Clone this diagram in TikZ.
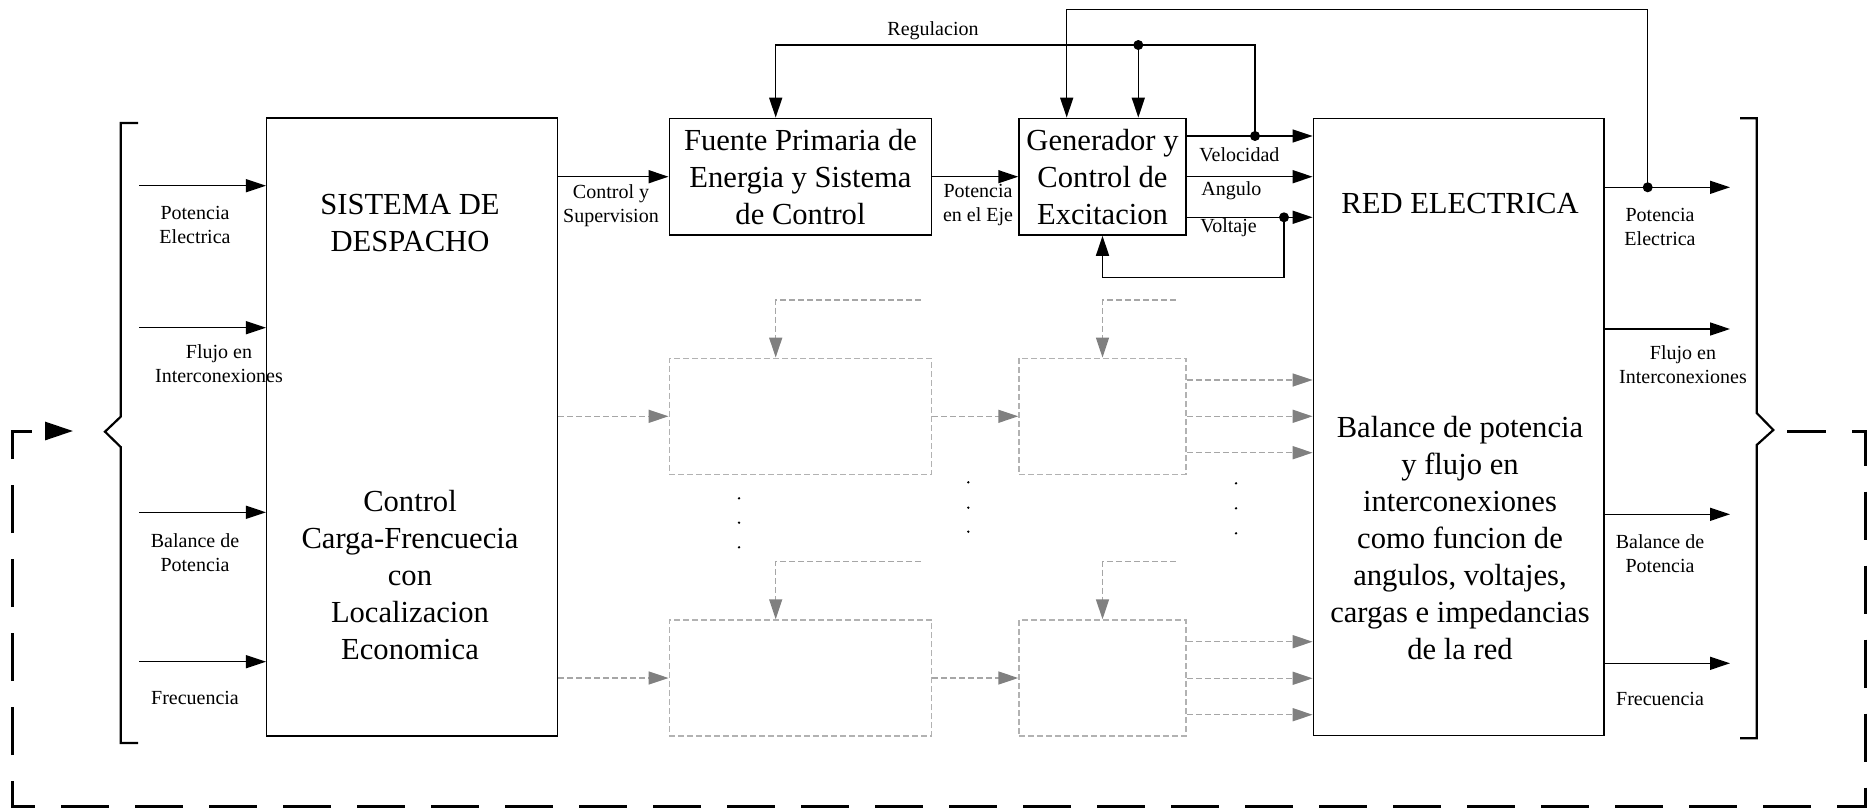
\documentclass[tikz,border=0pt]{standalone}
\usepackage{fontspec}
\setmainfont{Liberation Serif}
\usetikzlibrary{arrows.meta}
\newcommand\bigtxt{\fontsize{15.3}{18.5}\selectfont}
\newcommand\smalltxt{\fontsize{10}{12}\selectfont}
\begin{document}
\begin{tikzpicture}[x=0.5pt,y=-0.5pt,
  box/.style={draw, line width=0.75pt, inner sep=0pt, align=center, font=\bigtxt},
  bigtext/.style={inner sep=0pt, align=center, font=\bigtxt},
  gbox/.style={draw=gray!60, dash pattern=on 3pt off 1.5pt, line width=0.75pt, inner sep=0pt},
  arr/.style={line width=0.75pt, -{Triangle[length=10pt,width=6.5pt]}},
  garr/.style={draw=gray!70, dash pattern=on 3pt off 1.5pt, line width=0.75pt, -{Triangle[length=10pt,width=6.5pt,color=gray]}},
  lbl/.style={font=\smalltxt, align=center, inner sep=0pt},
  jdot/.style={circle, fill, inner sep=0pt, minimum size=5pt},
  vdot/.style={circle, fill, inner sep=0pt, minimum size=1.3pt},
  brk/.style={line width=1.1pt},
  loopst/.style={line width=1.5pt, dash pattern=on 24pt off 13pt, dash phase=4.3pt, -{Triangle[length=14pt,width=9pt]}}
]
\useasboundingbox (0,0) rectangle (1869,809);

% main boxes
\node[box, minimum width=145.3pt, minimum height=309pt] (sis) at (412,427) {};
\node[bigtext] (sist1) at (410,223.5) {SISTEMA DE\\DESPACHO};
\node[bigtext] (sist2) at (410,575) {Control\\Carga-Frencuecia\\con\\Localizacion\\Economica};
\node[box, minimum width=131.2pt, minimum height=58.35pt] (fuente) at (800.5,176.7) {Fuente Primaria de\\Energia y Sistema\\de Control};
\node[box, minimum width=83.5pt, minimum height=58.35pt] (gen) at (1102.5,176.7) {Generador y\\Control de\\Excitacion};
\node[box, minimum width=145.35pt, minimum height=308.7pt] (red) at (1458.7,427) {};
\node[bigtext] (redt1) at (1460,204) {RED ELECTRICA};
\node[bigtext] (redt2) at (1460,538) {Balance de potencia\\y flujo en\\interconexiones\\como funcion de\\angulos, voltajes,\\cargas e impedancias\\de la red};

% dashed boxes
\node[gbox, minimum width=131.2pt, minimum height=58pt] (f1) at (800.5,416.3) {};
\node[gbox, minimum width=83.5pt, minimum height=58pt] (g1) at (1102.5,416.3) {};
\node[gbox, minimum width=131.2pt, minimum height=58pt] (f2) at (800.5,678) {};
\node[gbox, minimum width=83.5pt, minimum height=58pt] (g2) at (1102.5,678) {};

% brackets
\draw[brk] (138,123) -- (120.7,123) -- (120.7,416.7) -- (105,431.7) coordinate (lbp) -- (120.7,447) -- (120.7,743) -- (138,743);
\draw[brk] (1740,118.3) -- (1756.7,118.3) -- (1756.7,413) -- (1773.3,430) coordinate (rbp) -- (1756.7,445) -- (1756.7,738.3) -- (1740,738.3);

% input arrows
\coordinate (i1) at (139,185.7);
\coordinate (i2) at (139,327.7);
\coordinate (i3) at (139,512.3);
\coordinate (i4) at (139,661.7);
\foreach \c in {i1,i2,i3,i4} \draw[arr] (\c) -- (\c -| sis.west);
\node[lbl] (li1) at (195,225) {Potencia\\Electrica};
\node[lbl] (li2) at (219,364) {Flujo en\\Interconexiones};
\node[lbl] (li3) at (195,553) {Balance de\\Potencia};
\node[lbl] (li4) at (195,698) {Frecuencia};

% output arrows
\coordinate (o1) at (1730,187.3);
\coordinate (o2) at (1730,329);
\coordinate (o3) at (1730,514.3);
\coordinate (o4) at (1730,663.3);
\foreach \c in {o1,o2,o3,o4} \draw[arr] (\c -| red.east) -- (\c);
\node[lbl] (lo1) at (1660,227) {Potencia\\Electrica};
\node[lbl] (lo2) at (1683,365) {Flujo en\\Interconexiones};
\node[lbl] (lo3) at (1660,554) {Balance de\\Potencia};
\node[lbl] (lo4) at (1660,699) {Frecuencia};

% top row connectors
\draw[arr] (sis.east |- fuente.west) -- (fuente.west);
\node[lbl] (lcs) at (611,205.5) {Control y\\Supervision};
\draw[arr] (fuente.east) -- (gen.west);
\node[lbl] (lpe) at (978,205.5) {Potencia\\en el Eje};

\coordinate (yv) at (0,136);
\coordinate (yvo) at (0,217.3);
\draw[arr] (gen.east |- yv) -- (red.west |- yv);
\draw[arr] (gen.east) -- (gen.east -| red.west);
\draw[arr] (gen.east |- yvo) -- (red.west |- yvo);
\node[lbl, anchor=west] (lvel) at (1199,155) {Velocidad};
\node[lbl, anchor=west] (lang) at (1201,190.7) {Angulo};
\node[lbl, anchor=west] (lvol) at (1200,227.7) {Voltaje};

\node[jdot] (dv) at (1255,136) {};
\node[jdot] (dvol) at (1284,217.3) {};
\node[jdot] (dreg) at (1138.3,45) {};
\node[jdot] (dpe) at (1647.7,187.3) {};

\coordinate (regx) at (775.7,45);
\draw[arr] (dv.center) |- (regx) -- (regx |- fuente.north);
\draw[arr] (dreg.center) -- (dreg |- gen.north);
\node[lbl] (lreg) at (933,30.7) {Regulacion};

\coordinate (topx) at (1066.7,9.3);
\draw[arr] (dpe.center) |- (topx) -- (topx |- gen.north);

\coordinate (vb) at (1102.5,277.7);
\draw[arr] (dvol.center) |- (vb) -- (gen.south);

% dashed rows
\draw[garr] (sis.east |- f1) -- (f1.west);
\draw[garr] (f1.east) -- (g1.west);
\foreach \yy in {380,416.3,452.7} {
  \coordinate (tmp) at (0,\yy);
  \draw[garr] (g1.east |- tmp) -- (red.west |- tmp);
}
\coordinate (fb1) at (921,300);
\coordinate (fb1x) at (775.7,300);
\draw[garr] (fb1) -- (fb1x) -- (fb1x |- f1.north);
\coordinate (gb1) at (1175.7,300);
\draw[garr] (gb1) -| (g1.north);

\draw[garr] (sis.east |- f2) -- (f2.west);
\draw[garr] (f2.east) -- (g2.west);
\foreach \yy in {641.7,678.3,714.7} {
  \coordinate (tmp) at (0,\yy);
  \draw[garr] (g2.east |- tmp) -- (red.west |- tmp);
}
\coordinate (fb2) at (921,561.7);
\coordinate (fb2x) at (775.7,561.7);
\draw[garr] (fb2) -- (fb2x) -- (fb2x |- f2.north);
\coordinate (gb2) at (1175.7,561.7);
\draw[garr] (gb2) -| (g2.north);

% vertical ellipses
\foreach \yy in {498.3,522.7,547.3} \node[vdot] at (739,\yy) {};
\foreach \yy in {482.3,507.7,531.7} \node[vdot] at (968.3,\yy) {};
\foreach \yy in {483.3,508.3,533.3} \node[vdot] at (1236,\yy) {};

% outer feedback loop
\coordinate (ls) at (1787,431);
\coordinate (le) at (73,431);
\draw[loopst] (ls) -- (1865.7,431) -- (1865.7,806.5) -- (12,806.5) -- (12,431) -- (le);
\end{tikzpicture}
\end{document}
